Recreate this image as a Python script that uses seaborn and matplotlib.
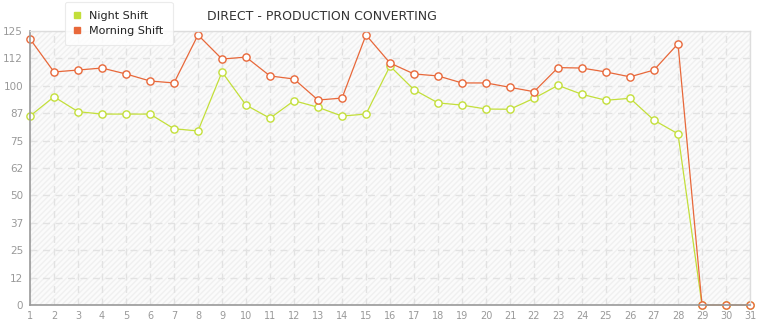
import matplotlib
matplotlib.use("Agg")
import matplotlib.pyplot as plt
import seaborn as sns
import pandas as pd
import numpy as np
from matplotlib.lines import Line2D

days = list(range(1, 32))
night_shift = [86.2, 95.0, 88.2, 87.1, 87.1, 87.1, 80.4, 79.4, 106.3, 91.2,
               85.2, 93.2, 90.2, 86.2, 87.1, 109.0, 98.2, 92.2, 91.2, 89.4,
               89.3, 94.3, 100.2, 96.1, 93.4, 94.3, 84.3, 78.1, 0, 0, 0]
morning_shift = [121.4, 106.3, 107.2, 108.1, 105.4, 102.2, 101.3, 123.2, 112.2, 113.1,
                 104.5, 103.1, 93.5, 94.4, 123.2, 110.4, 105.4, 104.5, 101.3, 101.3,
                 99.3, 97.3, 108.3, 108.1, 106.3, 104.1, 107.2, 119.2, 0, 0, 0]
y_ticks = [0, 12.5, 25, 37.5, 50, 62.5, 75, 87.5, 100, 112.5, 125]
y_labels = ["0", "12", "25", "37", "50", "62", "75", "87", "100", "112", "125"]
title = "DIRECT - PRODUCTION CONVERTING"

df = pd.DataFrame({"day": days * 2,
                   "value": night_shift + morning_shift,
                   "series": ["Night Shift"] * 31 + ["Morning Shift"] * 31})

sns.set_style("white")
plt.rcParams['font.family'] = ['DejaVu Sans']

fig = plt.figure(figsize=(7.65, 3.2), dpi=100)
ax = fig.add_axes([30/765, 15/320, 720/765, 274/320])

ax.set_facecolor("#fbfbfb")
ax.add_patch(plt.Rectangle((0, 0), 1, 1, transform=ax.transAxes, facecolor="none",
                           edgecolor="#f0f0f0", hatch="//////", linewidth=0, zorder=0))

palette = {"Night Shift": "#c3df3a", "Morning Shift": "#e8683a"}
sns.lineplot(data=df, x="day", y="value", hue="series", palette=palette, ax=ax,
             marker="o", markersize=5.2, markerfacecolor="white", markeredgewidth=1.0,
             linewidth=0.9, legend=False, zorder=3)
for line, c in zip(ax.lines, ["#c3df3a", "#e8683a"]):
    line.set_markeredgecolor(c)
    line.set_clip_on(False)

ax.set_xlim(1, 31)
ax.set_ylim(0, 125)
ax.set_xticks(days)
ax.set_xticklabels([str(d) for d in days])
ax.set_yticks(y_ticks)
ax.set_yticklabels(y_labels)
ax.set_xlabel("")
ax.set_ylabel("")
ax.grid(True, color="#e2e2e2", linestyle=(0, (5, 4)), linewidth=1.0, zorder=1)
ax.set_axisbelow(True)
for s in ["top", "right"]:
    ax.spines[s].set_color("#dddddd")
    ax.spines[s].set_linewidth(1.0)
for s in ["left", "bottom"]:
    ax.spines[s].set_color("#999999")
    ax.spines[s].set_linewidth(1.2)
ax.tick_params(axis="both", colors="#999999", labelcolor="#999999", labelsize=7.5,
               length=3, width=1, direction="out", pad=2)
ax.tick_params(axis="x", labelsize=7, pad=1)
for t in ax.spines.values():
    t.set_zorder(4)

fig.text(322/765, 1 - 17/320, title, ha="center", va="center", fontsize=9, color="#333333")

handles = [Line2D([], [], marker="s", color="none", markerfacecolor="#c3df3a",
                  markeredgecolor="#c3df3a", markersize=4),
           Line2D([], [], marker="s", color="none", markerfacecolor="#e8683a",
                  markeredgecolor="#e8683a", markersize=4)]
leg = fig.legend(handles, ["Night Shift", "Morning Shift"], loc="upper left",
                 bbox_to_anchor=(65/765, 1 - 2/320), frameon=True, fontsize=8,
                 handlelength=0.6, handletextpad=0.8, labelspacing=0.45,
                 borderpad=0.8, borderaxespad=0, fancybox=True, shadow=False)
leg.get_frame().set_edgecolor("#e6e6e6")
leg.get_frame().set_facecolor("white")
leg.get_frame().set_linewidth(0.8)
for t in leg.get_texts():
    t.set_color("#222222")

fig.savefig("out.png", dpi=100)
